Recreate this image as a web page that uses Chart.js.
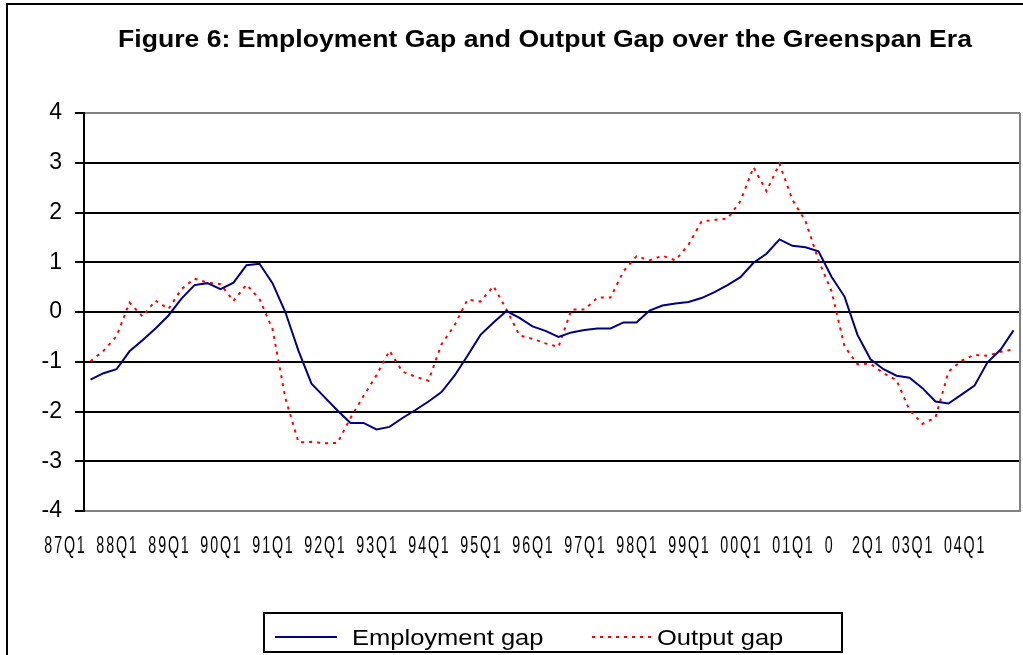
<!DOCTYPE html>
<html>
<head>
<meta charset="utf-8">
<script src="https://cdn.jsdelivr.net/npm/chart.js@4.4.0/dist/chart.umd.min.js"></script>
<style>
  body{margin:0;background:#fff;}
  #grafico{display:block;}
</style>
</head>
<body>
<canvas id="grafico" width="1023" height="655"></canvas>
<script>
// quarters 87Q3 .. 05Q2
const quarters = [
  '87Q3','87Q4',
  '88Q1','88Q2','88Q3','88Q4','89Q1','89Q2','89Q3','89Q4',
  '90Q1','90Q2','90Q3','90Q4','91Q1','91Q2','91Q3','91Q4',
  '92Q1','92Q2','92Q3','92Q4','93Q1','93Q2','93Q3','93Q4',
  '94Q1','94Q2','94Q3','94Q4','95Q1','95Q2','95Q3','95Q4',
  '96Q1','96Q2','96Q3','96Q4','97Q1','97Q2','97Q3','97Q4',
  '98Q1','98Q2','98Q3','98Q4','99Q1','99Q2','99Q3','99Q4',
  '00Q1','00Q2','00Q3','00Q4','01Q1','01Q2','01Q3','01Q4',
  '02Q1','02Q2','02Q3','02Q4','03Q1','03Q2','03Q3','03Q4',
  '04Q1','04Q2','04Q3','04Q4','05Q1','05Q2'
];

const employmentGap = [
  -1.36, -1.23, -1.15, -0.79, -0.57, -0.33, -0.07, 0.27, 0.54, 0.58,
  0.46, 0.59, 0.94, 0.97, 0.58, -0.01, -0.78, -1.44, -1.71, -1.98,
  -2.23, -2.23, -2.36, -2.31, -2.13, -1.97, -1.80, -1.61, -1.28, -0.88,
  -0.46, -0.21, 0.02, -0.12, -0.29, -0.38, -0.50, -0.41, -0.36, -0.33,
  -0.33, -0.21, -0.21, 0.03, 0.13, 0.17, 0.20, 0.28, 0.40, 0.54,
  0.70, 0.99, 1.17, 1.46, 1.33, 1.30, 1.22, 0.71, 0.31, -0.46,
  -0.95, -1.15, -1.28, -1.32, -1.53, -1.80, -1.84, -1.66, -1.48, -1.01,
  -0.76, -0.37
];

const outputGap = [
  -0.99, -0.78, -0.49, 0.19, -0.09, 0.23, 0.06, 0.46, 0.67, 0.59,
  0.56, 0.22, 0.55, 0.26, -0.34, -1.74, -2.62, -2.61, -2.64, -2.63,
  -2.13, -1.69, -1.27, -0.78, -1.20, -1.30, -1.38, -0.65, -0.27, 0.25,
  0.21, 0.52, 0.05, -0.47, -0.54, -0.63, -0.70, 0.05, 0.05, 0.29,
  0.29, 0.82, 1.12, 1.04, 1.13, 1.04, 1.35, 1.82, 1.85, 1.88,
  2.23, 2.91, 2.43, 2.98, 2.25, 1.83, 1.04, 0.42, -0.69, -1.05,
  -1.04, -1.23, -1.37, -1.97, -2.25, -2.12, -1.20, -0.98, -0.86, -0.88,
  -0.80, -0.75
];

// x axis labels as printed, and the category index each one sits under
const tickLabels = ['87Q1','88Q1','89Q1','90Q1','91Q1','92Q1','93Q1','94Q1','95Q1',
  '96Q1','97Q1','98Q1','99Q1','00Q1','01Q1','0   2Q1','03Q1','04Q1'];
const tickIndex = [-2, 2, 6, 10, 14, 18, 22, 26, 30, 34, 38, 42, 46, 50, 54, 58.7, 63.2, 67.2];

const titulo = 'Figure 6: Employment Gap and Output Gap over the Greenspan Era';
const FONT = '"Liberation Sans", Arial, sans-serif';

const ctx = document.getElementById('grafico');
let grafico;

// text helper, the picture is a bit stretched sideways
const texto = (c, str, x, y, font, sx, align, spacing) => {
  c.save();
  c.font = font;
  if (spacing) c.letterSpacing = spacing;
  c.translate(x, y);
  c.scale(sx, 1);
  c.textAlign = align;
  c.textBaseline = 'middle';
  c.fillStyle = '#000';
  c.fillText(str, 0, 0);
  c.restore();
};

const extras = {
  id: 'extras',
  beforeDraw(chart) {
    const c = chart.ctx;
    c.save();
    c.fillStyle = '#fff';
    c.fillRect(0, 0, chart.width, chart.height);
    // outer frame
    c.strokeStyle = '#000';
    c.lineWidth = 2;
    c.strokeRect(7, 4, 1200, 1000);
    c.restore();
  },
  beforeDatasetsDraw(chart) {
    const a = chart.chartArea;
    const c = chart.ctx;
    c.save();
    c.strokeStyle = '#808080';
    c.lineWidth = 2;
    c.beginPath();
    c.moveTo(a.right, a.top);
    c.lineTo(a.right, a.bottom);
    c.stroke();
    c.restore();
  },
  afterDraw(chart) {
    const c = chart.ctx;
    const xs = chart.scales.x;
    texto(c, titulo, 545, 41, 'bold 23px ' + FONT, 1.156, 'center');

    tickLabels.forEach((lab, k) => {
      texto(c, lab, xs.getPixelForValue(tickIndex[k]) + 1, 547, '23px ' + FONT, 0.62, 'center', '3px');
    });

    // legend
    const ds = chart.data.datasets;
    c.save();
    c.strokeStyle = '#000';
    c.lineWidth = 2;
    c.strokeRect(264, 613, 578, 39);
    c.lineWidth = 2;
    c.strokeStyle = ds[0].borderColor;
    c.beginPath(); c.moveTo(275, 637); c.lineTo(337, 637); c.stroke();
    c.strokeStyle = ds[1].borderColor;
    c.setLineDash(ds[1].borderDash);
    c.beginPath(); c.moveTo(592, 637); c.lineTo(651, 637); c.stroke();
    c.restore();
    texto(c, ds[0].label, 352, 639, '22px ' + FONT, 1.16, 'left');
    texto(c, ds[1].label, 657, 639, '22px ' + FONT, 1.16, 'left');
  }
};

grafico = new Chart(ctx, {
  type: 'line',
  data: {
    labels: quarters,
    datasets: [{
      label: 'Employment gap',
      data: employmentGap,
      borderColor: '#000080',
      borderWidth: 2,
      pointRadius: 0,
      tension: 0
    }, {
      label: 'Output gap',
      data: outputGap,
      borderColor: '#FF0000',
      borderWidth: 2,
      borderDash: [3, 5],
      pointRadius: 0,
      tension: 0
    }]
  },
  options: {
    responsive: false,
    animation: false,
    devicePixelRatio: 1,
    layout: { padding: { left: 0, right: 3, top: 113, bottom: 0 } },
    plugins: {
      legend: { display: false },
      title: { display: false },
      tooltip: { enabled: false }
    },
    scales: {
      x: {
        type: 'category',
        offset: true,
        ticks: { display: false },
        grid: { display: false },
        border: { color: '#808080', width: 2 },
        afterFit: (s) => { s.height = 144; }
      },
      y: {
        min: -4,
        max: 4,
        ticks: {
          stepSize: 1,
          padding: 13,
          color: '#000',
          font: { family: FONT, size: 23 }
        },
        grid: {
          color: (c) => (c.tick && Math.abs(c.tick.value) === 4) ? '#808080' : '#000',
          lineWidth: 2,
          tickLength: 9,
          tickColor: '#000'
        },
        border: { color: '#000', width: 2 },
        afterFit: (s) => { s.width = 84; }
      }
    }
  },
  plugins: [extras]
});
</script>
</body>
</html>
